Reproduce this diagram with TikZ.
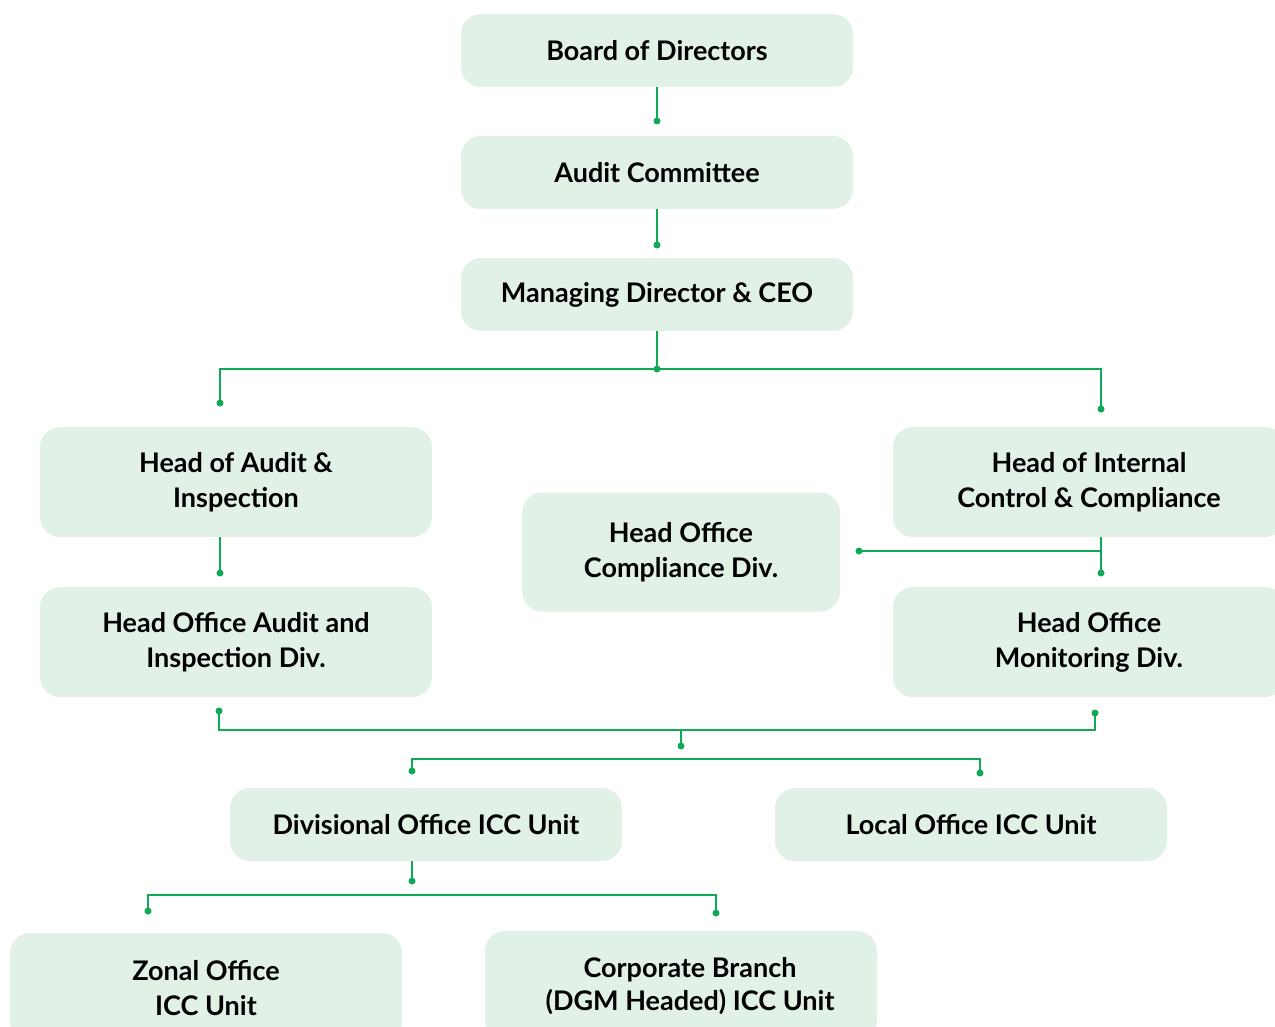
\documentclass[tikz,border=0pt]{standalone}
\usepackage{fontspec}
\setmainfont{Lato}
\usetikzlibrary{calc}
\definecolor{boxfill}{HTML}{E2F1E6}
\definecolor{linegreen}{HTML}{0FA957}

\begin{document}
\begin{tikzpicture}[x=0.5pt,y=-0.5pt,
  unitbox/.style={fill=boxfill, rounded corners=10pt, minimum width=196pt, minimum height=36.5pt, align=center, inner sep=0pt, font=\fontsize{13.5}{17.5}\selectfont\bfseries},
  tallbox/.style={unitbox, minimum height=55pt},
  link/.style={draw=linegreen, line width=1pt},
  tip/.style={circle, fill=linegreen, inner sep=0pt, minimum size=3.5pt}]
\useasboundingbox (0,0) rectangle (1275,1027);
% the boxes
\node[unitbox] (board) at (657,50.5) {Board of Directors};
\node[unitbox] (audit) at (657,172.5) {Audit Committee};
\node[unitbox] (md) at (657,294.5) {Managing Director \& CEO};
\node[tallbox] (hai) at (236,482) {Head of Audit \&\\Inspection};
\node[tallbox] (hicc) at (1089,482) {Head of Internal\\Control \& Compliance};
\node[tallbox, minimum width=159pt, minimum height=59.5pt] (hocd) at (681,552) {Head Office\\Compliance Div.};
\node[tallbox] (hoaid) at (236,642) {Head Office Audit and\\Inspection Div.};
\node[tallbox] (homd) at (1089,642) {Head Office\\Monitoring Div.};
\node[unitbox] (doicc) at (426,824.5) {Divisional Office ICC Unit};
\node[unitbox] (loicc) at (971,824.5) {Local Office ICC Unit};
\node[tallbox] (zoicc) at (206,988) {Zonal Office\\ICC Unit};
\node[tallbox, font=\fontsize{13.5}{16.5}\selectfont\bfseries] (cbicc) at (681,986) {\hspace*{9pt}Corporate Branch\\\hspace*{9pt}(DGM Headed) ICC Unit};
% the dots
\node[tip] (t1) at (657,121) {};
\node[tip] (t2) at (657,245) {};
\node[tip] (t3) at (657,369) {};
\node[tip] (t4) at (220,403) {};
\node[tip] (t5) at (1101,409) {};
\node[tip] (t6) at (220,573) {};
\node[tip] (t7) at (1101,573) {};
\node[tip] (t8) at (859,551) {};
\node[tip] (t9) at (219,711) {};
\node[tip] (t10) at (1095,713) {};
\node[tip] (t11) at (681,746) {};
\node[tip] (t12) at (412,771) {};
\node[tip] (t13) at (980,773) {};
\node[tip] (t14) at (412,881) {};
\node[tip] (t15) at (148,911) {};
\node[tip] (t16) at (716,913) {};
\coordinate (j1) at (681,730);
\coordinate (j2) at (412,759);
\coordinate (j3) at (412,895);
% the lines
\draw[link] (board.south) -- (t1.center);
\draw[link] (audit.south) -- (t2.center);
\draw[link] (md.south) -- (t3.center);
\draw[link] (t4.center) -- (t4.center |- t3) -- (t5.center |- t3) -- (t5.center);
\draw[link] (hai.south -| t6) -- (t6.center);
\draw[link] (hicc.south -| t7) -- (t7.center);
\draw[link] (t8.center) -- (t8.center -| t7);
\draw[link] (t9.center) -- (t9.center |- j1) -- (t10.center |- j1) -- (t10.center);
\draw[link] (j1) -- (t11.center);
\draw[link] (t12.center) -- (j2) -- (t13.center |- j2) -- (t13.center);
\draw[link] (doicc.south -| t14) -- (t14.center);
\draw[link] (t15.center) -- (t15.center |- j3) -- (t16.center |- j3) -- (t16.center);
\end{tikzpicture}
\end{document}
